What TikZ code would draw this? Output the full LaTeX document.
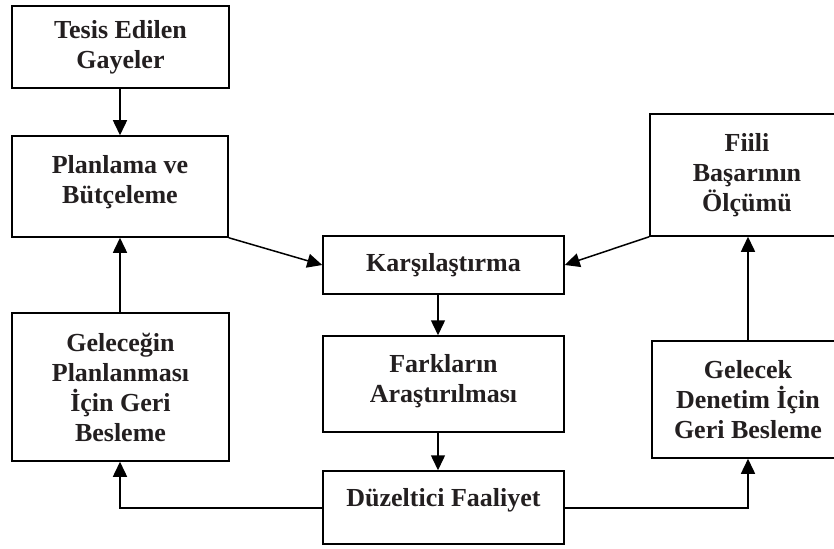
\documentclass[tikz,border=0pt]{standalone}
\usepackage{fontspec}
\setmainfont{Liberation Serif}
\usetikzlibrary{arrows.meta}
\definecolor{ink}{HTML}{231F20}
\tikzset{
  box/.style={draw=black, line width=1.5pt, rectangle, inner sep=0pt, align=center,
    text=ink, font=\bfseries\fontsize{26}{30}\selectfont},
  arr/.style={draw=black, line width=1.5pt, -{Triangle[length=15pt,width=14pt]}},
  ln/.style={draw=black, line width=1.5pt}
}
\begin{document}
\begin{tikzpicture}[x=1pt,y=-1pt]
\useasboundingbox (0,0) rectangle (834,548);

% boxes
\node[box, minimum width=217pt, minimum height=82pt]  (goal) at (120.5,47)   {Tesis Edilen\\Gayeler};
\node[box, minimum width=216pt, minimum height=101pt] (plan) at (120,186.5)  {\raisebox{4pt}[\height][\depth]{Planlama ve}\\\raisebox{4pt}[\height][\depth]{Bütçeleme}};
\node[box, minimum width=241pt, minimum height=58pt]  (cmp)  at (443.5,265)  {Karşılaştırma};
\node[box, minimum width=194pt, minimum height=122pt] (meas) at (747,175)    {Fiili\\Başarının\\Ölçümü};
\node[box, minimum width=217pt, minimum height=148pt] (fbp)  at (120.5,387)  {Geleceğin\\Planlanması\\İçin Geri\\Besleme};
\node[box, minimum width=241pt, minimum height=96pt]  (diff) at (443.5,384)  {\raisebox{3pt}[\height][\depth]{Farkların}\\\raisebox{3pt}[\height][\depth]{Araştırılması}};
\node[box, minimum width=192pt, minimum height=117pt] (fbc)  at (748,399.5)  {Gelecek\\Denetim İçin\\Geri Besleme};
\node[box, minimum width=241pt, minimum height=73pt]  (act)  at (443.5,507.5) {\raisebox{7pt}[\height][\depth]{Düzeltici Faaliyet}};

% guide coordinates for the vertical runs
\coordinate (lx) at (120,0);
\coordinate (mx) at (438,0);
\coordinate (rx) at (748,0);
\coordinate (ly) at (0,508);

% connectors
\draw[arr] (goal.south -| lx) -- (plan.north -| lx);
\draw[arr] (fbp.north -| lx) -- (plan.south -| lx);
\draw[arr] (plan.south east) -- (cmp.west);
\draw[arr] (meas.south west) -- (cmp.east);
\draw[arr] (cmp.south -| mx) -- (diff.north -| mx);
\draw[arr] (diff.south -| mx) -- (act.north -| mx);
\draw[arr] (act.west |- ly) -- (lx |- ly) -- (fbp.south -| lx);
\draw[arr] (act.east |- ly) -- (rx |- ly) -- (fbc.south -| rx);
\draw[arr] (fbc.north -| rx) -- (meas.south -| rx);
\end{tikzpicture}
\end{document}
